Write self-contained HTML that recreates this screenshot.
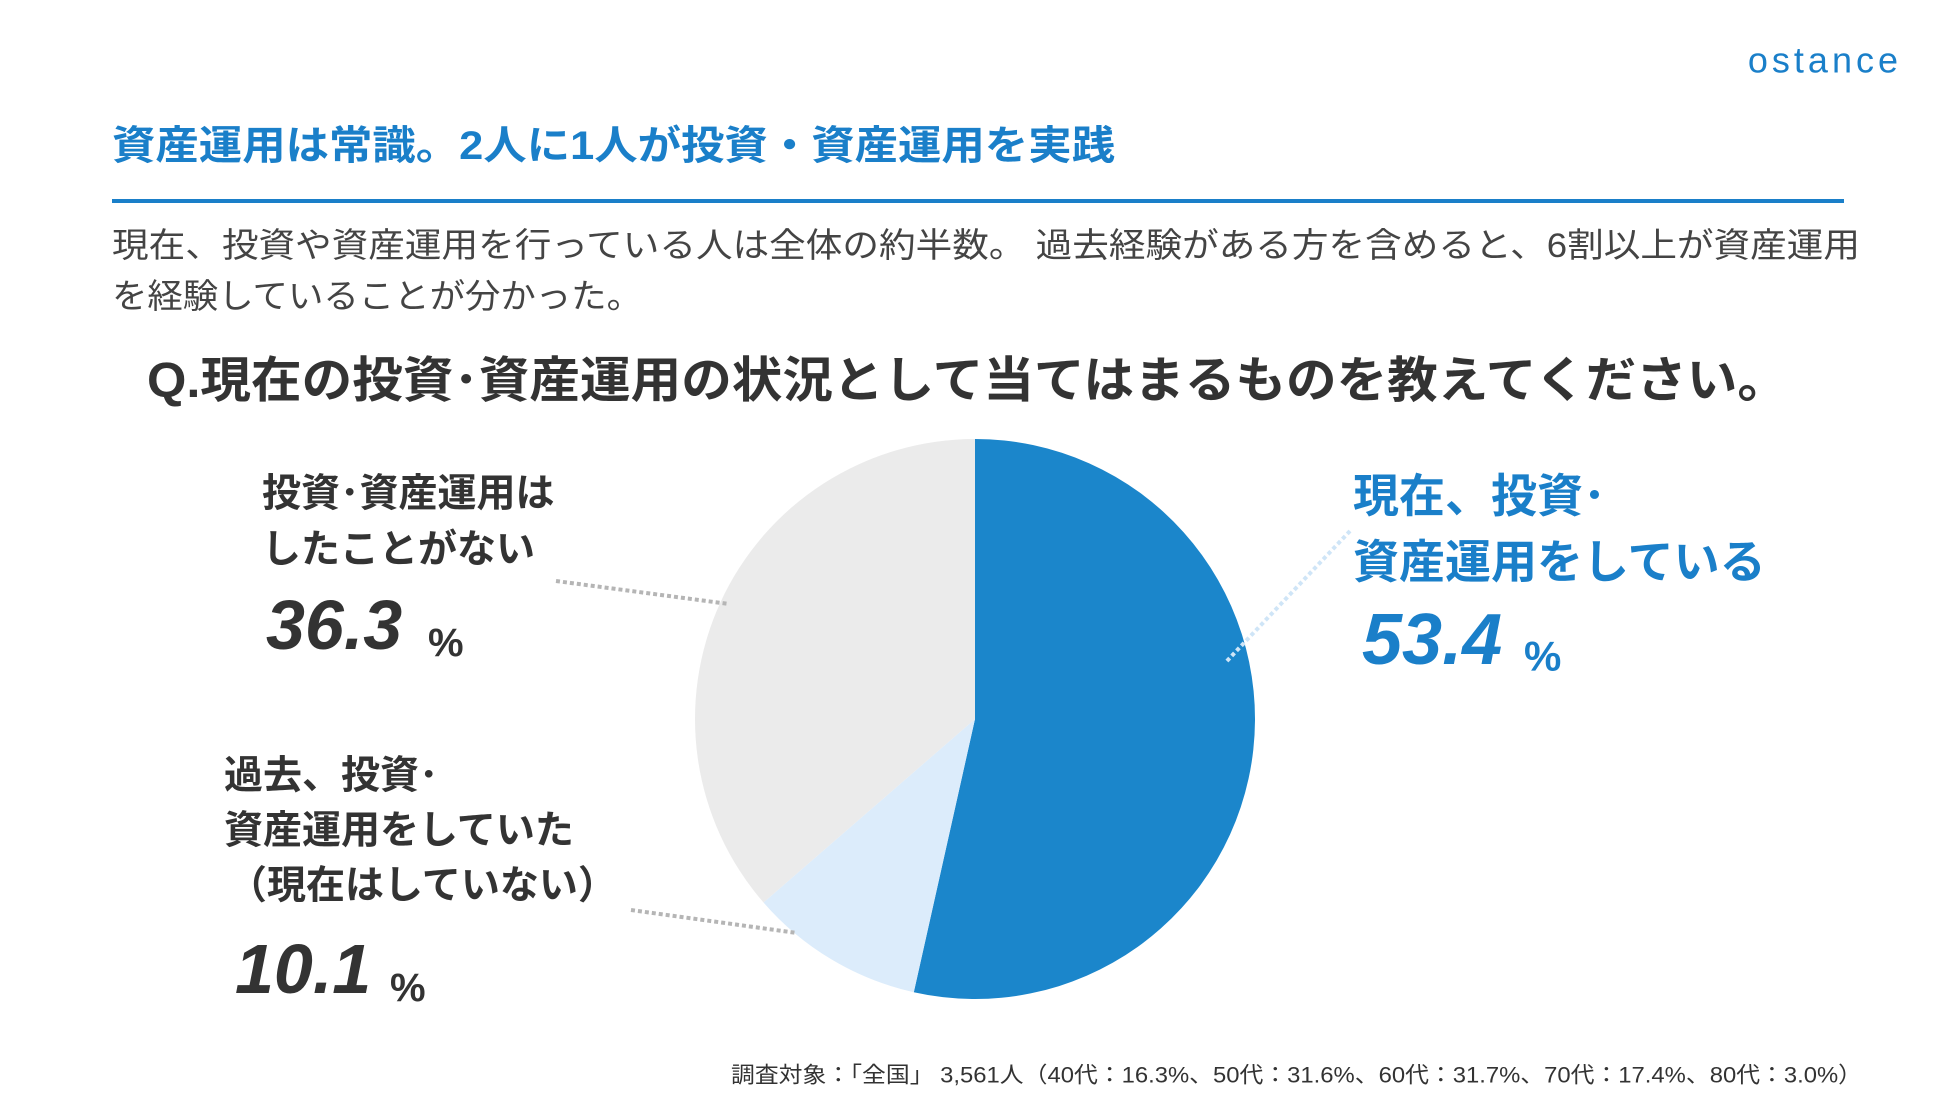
<!DOCTYPE html>
<html><head><meta charset="utf-8"><style>
html,body{margin:0;padding:0;background:#fff;}
svg{display:block;font-family:"Liberation Sans","Noto Sans CJK JP",sans-serif;}
</style></head><body>
<svg id="chart" width="1950" height="1097" viewBox="0 0 1950 1097">
<text x="1902" y="60" text-anchor="end" dominant-baseline="central" font-size="36" fill="#1a7fc9" letter-spacing="4">ostance</text>
<text x="112" y="146" dominant-baseline="central" font-size="40" font-weight="bold" fill="#1a7fc9" textLength="1003" lengthAdjust="spacingAndGlyphs">資産運用は常識。2人に1人が投資・資産運用を実践</text>
<rect x="112" y="199" width="1732" height="4" fill="#1a7fc9"/>
<text x="112" y="246" dominant-baseline="central" font-size="34" fill="#444" textLength="1748" lengthAdjust="spacingAndGlyphs">現在、投資や資産運用を行っている人は全体の約半数。 過去経験がある方を含めると、6割以上が資産運用</text>
<text x="112" y="297" dominant-baseline="central" font-size="34" fill="#444" textLength="530" lengthAdjust="spacingAndGlyphs">を経験していることが分かった。</text>
<text x="147" y="381" dominant-baseline="central" font-size="49" font-weight="bold" fill="#333" textLength="1641" lengthAdjust="spacingAndGlyphs">Q.現在の投資･資産運用の状況として当てはまるものを教えてください。</text>
<g id="slices"></g>
<line x1="556" y1="581" x2="729" y2="604" stroke="#b5b5b5" stroke-width="4" stroke-dasharray="4 3"/>
<line x1="631" y1="910" x2="797" y2="933" stroke="#b5b5b5" stroke-width="4" stroke-dasharray="4 3"/>
<line x1="1350" y1="531" x2="1225" y2="663" stroke="#cfe5f7" stroke-width="4" stroke-dasharray="4 3"/>
<g fill="#333" font-weight="bold" dominant-baseline="central">
<text x="262" y="494" font-size="39">投資･資産運用は</text>
<text x="262" y="550" font-size="39">したことがない</text>
<text x="266" y="625" font-size="70" font-style="italic" id="v2">36.3</text>
<text x="428" y="643" font-size="40">%</text>
<text x="224" y="776" font-size="39">過去、投資･</text>
<text x="224" y="831" font-size="39">資産運用をしていた</text>
<text x="228" y="886" font-size="39">（現在はしていない）</text>
<text x="235" y="969" font-size="70" font-style="italic" id="v1">10.1</text>
<text x="390" y="988" font-size="40">%</text>
</g>
<g fill="#1a7fc9" font-weight="bold" dominant-baseline="central">
<text x="1353" y="496" font-size="46">現在、投資･</text>
<text x="1353" y="562" font-size="46">資産運用をしている</text>
<text x="1362" y="640" font-size="72" font-style="italic" id="v0">53.4</text>
<text x="1524" y="656" font-size="42">%</text>
</g>
<text x="1862" y="1075" text-anchor="end" dominant-baseline="central" font-size="22" fill="#333" textLength="1131" lengthAdjust="spacingAndGlyphs">調査対象：「全国」 3,561人（40代：16.3%、50代：31.6%、60代：31.7%、70代：17.4%、80代：3.0%）</text>
</svg>
<script>
const categories = ["現在、投資・資産運用をしている", "過去、投資・資産運用をしていた", "投資・資産運用はしたことがない"];
const values = [53.4, 10.1, 36.3];
const colors = ["#1b86cb", "#dcecfb", "#ebebeb"];
const cx = 975, cy = 719, r = 280;
const total = values.reduce((a, b) => a + b, 0);
function angleOf(v) { return v / total * 2 * Math.PI; }
function pt(a) { return [cx + r * Math.sin(a), cy - r * Math.cos(a)]; }
const g = document.getElementById('slices');
let start = 0;
values.forEach((v, i) => {
  const end = start + angleOf(v);
  const [x0, y0] = pt(start), [x1, y1] = pt(end);
  const large = end - start > Math.PI ? 1 : 0;
  const p = document.createElementNS('http://www.w3.org/2000/svg', 'path');
  p.setAttribute('d', `M${cx},${cy} L${x0},${y0} A${r},${r} 0 ${large} 1 ${x1},${y1} Z`);
  p.setAttribute('fill', colors[i]);
  
  
  g.appendChild(p);
  const t = document.getElementById('v' + i);
  if (t) t.textContent = values[i].toFixed(1);
  start = end;
});
</script>
</body></html>
